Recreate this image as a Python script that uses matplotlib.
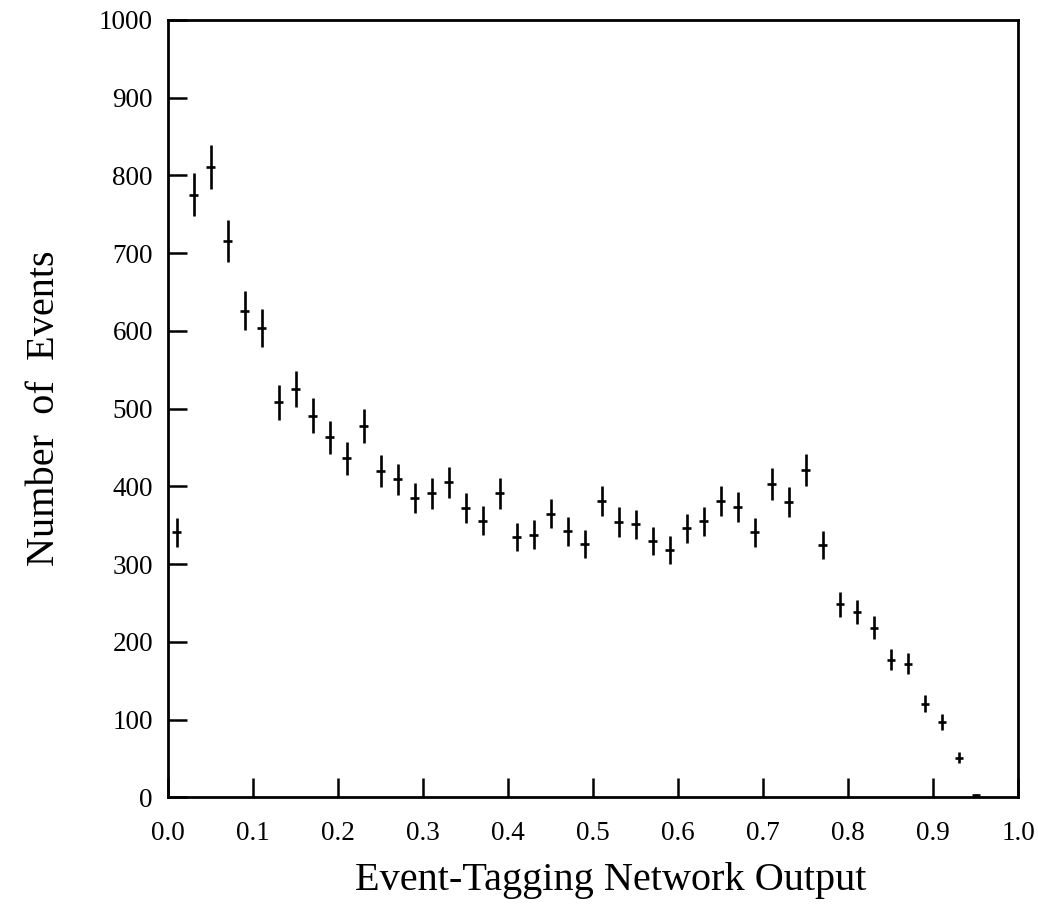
import numpy as np
import matplotlib
matplotlib.use("Agg")
import matplotlib.pyplot as plt

# Network output histogram: bin centres (width 0.02) and event counts
bin_centres = [0.01, 0.03, 0.05, 0.07, 0.09, 0.11, 0.13, 0.15, 0.17, 0.19,
               0.21, 0.23, 0.25, 0.27, 0.29, 0.31, 0.33, 0.35, 0.37, 0.39,
               0.41, 0.43, 0.45, 0.47, 0.49, 0.51, 0.53, 0.55, 0.57, 0.59,
               0.61, 0.63, 0.65, 0.67, 0.69, 0.71, 0.73, 0.75, 0.77, 0.79,
               0.81, 0.83, 0.85, 0.87, 0.89, 0.91, 0.93, 0.95]
counts = [341, 775, 811, 716, 626, 604, 508, 525, 491, 463,
          436, 478, 420, 409, 385, 391, 405, 372, 356, 391,
          335, 338, 365, 342, 326, 381, 354, 351, 330, 318,
          346, 355, 381, 374, 341, 403, 380, 421, 325, 248,
          238, 218, 177, 172, 120, 97, 51, 3]

x_ticks = [0.0, 0.1, 0.2, 0.3, 0.4, 0.5, 0.6, 0.7, 0.8, 0.9, 1.0]
y_ticks = [0, 100, 200, 300, 400, 500, 600, 700, 800, 900, 1000]

plt.rcParams['font.family'] = ['Liberation Serif', 'DejaVu Serif']

x = np.array(bin_centres)
n = np.array(counts, dtype=float)
err = np.sqrt(n)  # poisson errors

fig = plt.figure(figsize=(10.38, 9.07), dpi=100)
ax = fig.add_axes([0.162, 0.121, 0.819, 0.857])

ax.errorbar(x, n, yerr=err, xerr=0.005, fmt='none', ecolor='black',
            elinewidth=1.9, capsize=0)

ax.set_xlim(0.0, 1.0)
ax.set_ylim(0, 1000)
ax.set_xticks(x_ticks)
ax.set_yticks(y_ticks)
ax.set_xticklabels(["%.1f" % t for t in x_ticks])
ax.tick_params(axis='both', direction='in', length=14, width=1.8,
               labelsize=19.5, top=False, right=False)
ax.tick_params(axis='x', pad=17)
ax.tick_params(axis='y', pad=11)
for s in ax.spines.values():
    s.set_linewidth(2)

ax.set_xlabel("Event-Tagging Network Output", fontsize=29)
ax.xaxis.set_label_coords(0.52, -0.083)
ax.set_ylabel("Number  of  Events", fontsize=29, labelpad=26)

fig.savefig("out.png", dpi=100)
